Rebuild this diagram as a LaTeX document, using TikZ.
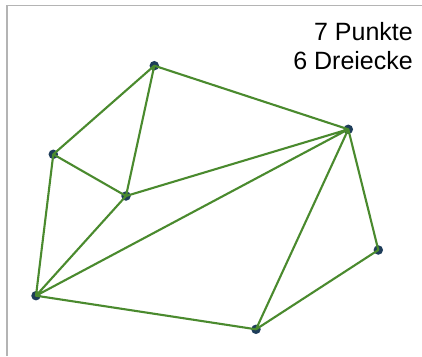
\documentclass[tikz,border=0pt]{standalone}
\usepackage{fontspec}
\setmainfont{Liberation Sans}
\definecolor{edgegreen}{HTML}{4A8A2E}
\definecolor{dotblue}{HTML}{1E3D5A}
\definecolor{framegray}{HTML}{B4B4B4}
\begin{document}
\begin{tikzpicture}[x=1pt,y=-1pt,
  pt/.style={circle,fill=dotblue,inner sep=0pt,minimum size=9.5pt},
  edge/.style={draw=edgegreen,line width=2.1pt},
  lbl/.style={font=\fontsize{25}{30}\selectfont,inner sep=0pt,anchor=base east}]
\useasboundingbox (0,0) rectangle (422,356);
\fill[white] (0,0) rectangle (422,356);
\draw[framegray,line width=1.4pt] (7,356) -- (7,5.5) -- (422,5.5);
\node[pt] (A) at (154.3,65.7) {};
\node[pt] (B) at (53.3,154.3) {};
\node[pt] (C) at (126,196) {};
\node[pt] (D) at (348.3,129.3) {};
\node[pt] (E) at (378.3,250) {};
\node[pt] (F) at (256,329.3) {};
\node[pt] (G) at (36,295.7) {};
\draw[edge,line cap=round] (A.center) -- (B.center) (A.center) -- (C.center) (A.center) -- (D.center)
  (B.center) -- (C.center) (B.center) -- (G.center) (C.center) -- (D.center) (C.center) -- (G.center)
  (G.center) -- (D.center) (G.center) -- (F.center) (F.center) -- (D.center) (F.center) -- (E.center)
  (E.center) -- (D.center);
\node[lbl] (t1) at (413,40) {7 Punkte};
\node[lbl] (t2) at (413,69.5) {6 Dreiecke};
\end{tikzpicture}
\end{document}
